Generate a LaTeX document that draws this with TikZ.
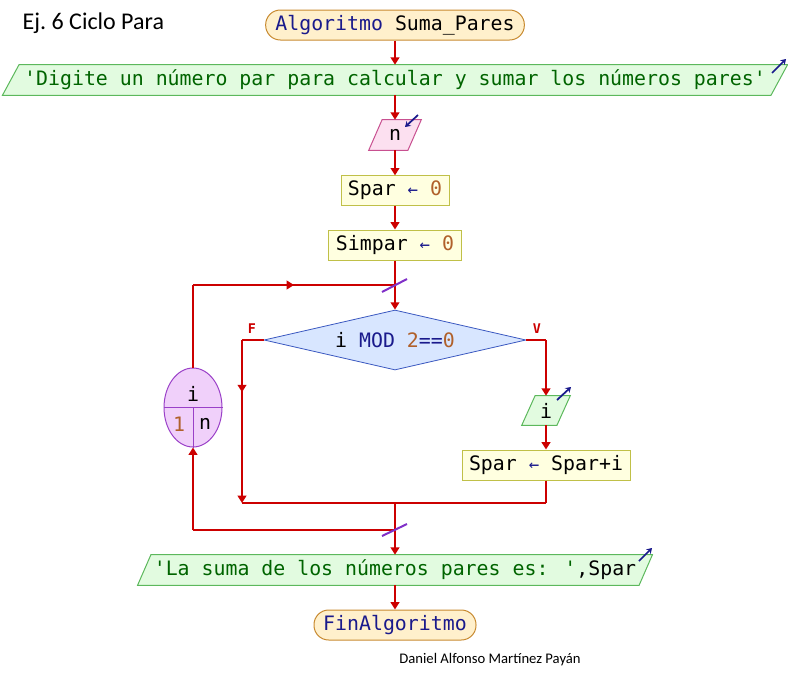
\documentclass[tikz,border=0pt]{standalone}
\usepackage{fontspec}
\setmainfont{Carlito}
\newfontfamily\monof{DejaVu Sans Mono}
\usetikzlibrary{arrows.meta,shapes.geometric,backgrounds,decorations.markings}
\definecolor{flow}{HTML}{CC0000}
\definecolor{termF}{HTML}{FFF0CC}
\definecolor{termB}{HTML}{C88A30}
\definecolor{outF}{HTML}{E2FBE0}
\definecolor{outB}{HTML}{5CB85C}
\definecolor{inF}{HTML}{FCE0F0}
\definecolor{inB}{HTML}{C85090}
\definecolor{asgF}{HTML}{FFFFE0}
\definecolor{asgB}{HTML}{C0C048}
\definecolor{decF}{HTML}{D8E6FF}
\definecolor{decB}{HTML}{3A58C0}
\definecolor{ellF}{HTML}{F0D0FA}
\definecolor{ellB}{HTML}{9A40C8}
\definecolor{kw}{HTML}{1A1A8C}
\definecolor{strc}{HTML}{006400}
\definecolor{numc}{HTML}{B0602A}
\definecolor{slashc}{HTML}{8030C8}
\newcommand\parashape[3]{%
  \draw[#1] ([xshift=-#3]#2.south west) -- ([xshift=#3]#2.north west) -- ([xshift=#3]#2.north east) -- ([xshift=-#3]#2.south east) -- cycle;}
\newcommand\asgarrow{\textcolor{kw}{\fontsize{13}{14}\selectfont←}}
\begin{document}
\begin{tikzpicture}[x=0.75pt,y=-0.75pt,
  mtext/.style={font=\monof\fontsize{14.9}{16}\selectfont},
  term/.style={mtext,draw=termB,fill=termF,rounded corners=11pt,line width=0.75pt,minimum height=22.5pt,inner sep=0pt},
  asg/.style={mtext,draw=asgB,fill=asgF,line width=0.75pt,minimum height=22pt,inner sep=0pt},
  iobox/.style={mtext,minimum height=22.5pt,inner sep=0pt},
  outshape/.style={draw=outB,fill=outF,line width=0.75pt},
  inshape/.style={draw=inB,fill=inF,line width=0.75pt},
  flowline/.style={draw=flow,line width=1.5pt},
  arr/.style={flowline,-{Triangle[width=6.5pt,length=5.5pt]}},
  midarr/.style={flowline,postaction={decorate},decoration={markings,mark=at position #1 with {\arrow{Triangle[width=6.5pt,length=5.5pt]}}}},
  icon/.style={draw=kw,line width=1.3pt,-{Stealth[width=5pt,length=4pt]}},
  slash/.style={draw=slashc,line width=1.5pt},
  lbl/.style={font=\monof\bfseries\fontsize{10}{11}\selectfont,text=flow}
]
\useasboundingbox (0,0) rectangle (788,675);

\node[font=\fontsize{18}{21}\selectfont,anchor=west] (title) at (18,23) {Ej.\ 6 Ciclo Para};

\node[term,minimum width=194pt] (start) at (395,25) {\textcolor{kw}{Algoritmo} Suma\_Pares};
\node[iobox,minimum width=576pt] (out1) at (395,80) {\textcolor{strc}{'Digite un número par para calcular y sumar los números pares'}};
\node[iobox,minimum width=29pt] (inn) at (395,135) {n};
\node[asg,minimum width=81pt] (spar) at (395,190.5) {Spar \asgarrow{} \textcolor{numc}{0}};
\node[asg,minimum width=99.75pt,minimum height=22.5pt] (simpar) at (395,245) {Simpar \asgarrow{} \textcolor{numc}{0}};
\node[mtext,shape=diamond,aspect=4.37,minimum width=196.5pt,minimum height=45pt,inner sep=0pt,draw=decB,fill=decF,line width=0.6pt] (dec) at (395,340) {i \textcolor{kw}{MOD} \textcolor{numc}{2}\textcolor{kw}{==}\textcolor{numc}{0}};
\node[iobox,minimum width=26pt,minimum height=21.75pt] (ini) at (546,410.5) {i};
\node[asg,minimum width=126pt,minimum height=22.5pt] (sps) at (546,465) {Spar \asgarrow{} Spar+i};
\node[iobox,minimum width=375.75pt] (out2) at (395,570) {\textcolor{strc}{'La suma de los números pares es: '},Spar};
\node[term,minimum width=121.5pt] (fin) at (395,625) {\textcolor{kw}{FinAlgoritmo}};

\node[mtext,shape=ellipse,draw=ellB,fill=ellF,line width=0.75pt,minimum width=43.5pt,minimum height=59.25pt,inner sep=0pt] (ell) at (193,407.5) {};
\draw[draw=ellB,line width=0.75pt] (ell.west) -- (ell.east);
\draw[draw=ellB,line width=0.75pt] (ell.center) -- (ell.south);
\node[mtext] (evar) at (193,394) {i};
\node[mtext,text=numc] (efrom) at (179,424) {1};
\node[mtext] (eto) at (205,424) {n};

\begin{scope}[on background layer]
  \parashape{outshape}{out1}{6.2pt}
  \parashape{inshape}{inn}{5pt}
  \parashape{outshape}{ini}{5pt}
  \parashape{outshape}{out2}{5pt}
\end{scope}

\node[font=\fontsize{11}{13}\selectfont] (author) at (490,660) {Daniel Alfonso Martínez Payán};

% icons
\draw[icon] (772,73) -- (786,59);
\draw[icon] (418,115) -- (405,127);
\draw[icon] (557,400) -- (571,387);
\draw[icon] (639,561) -- (652,548);

% connectors
\draw[arr] (start) -- (out1);
\draw[arr] (out1) -- (inn);
\draw[arr] (inn) -- (spar);
\draw[arr] (spar) -- (simpar);
\coordinate (jtop) at (395,285);
\coordinate (ltop) at (193,285);
\draw[arr] (simpar) -- (dec);
\draw[flowline] (ell.north) -- (ltop);
\draw[midarr=0.5] (ltop) -- (jtop);
\draw[slash] (382,292) -- (407,279);

\coordinate (fcorner) at (242,340);
\coordinate (fend) at (242,503);
\coordinate (vcorner) at (546,340);
\coordinate (jbot) at (395,503);
\coordinate (rbot) at (546,503);
\draw[flowline] (dec.west) -- (fcorner);
\draw[midarr=0.32,-{Triangle[width=6.5pt,length=5.5pt]}] (fcorner) -- (fend);
\draw[flowline] (dec.east) -- (vcorner);
\draw[arr] (vcorner) -- (ini);
\node[lbl] (flbl) at (252,329) {F};
\node[lbl] (vlbl) at (537,329) {V};
\draw[arr] (ini) -- (sps);
\draw[flowline] (sps) -- (rbot);
\draw[flowline] (fend) -- (rbot);
\draw[arr] (jbot) -- (out2);
\coordinate (jlow) at (395,530);
\coordinate (lbot) at (193,530);
\draw[flowline] (jlow) -- (lbot);
\draw[arr] (lbot) -- (ell.south);
\draw[slash] (382,536) -- (407,524);
\draw[arr] (out2) -- (fin);
\end{tikzpicture}
\end{document}
